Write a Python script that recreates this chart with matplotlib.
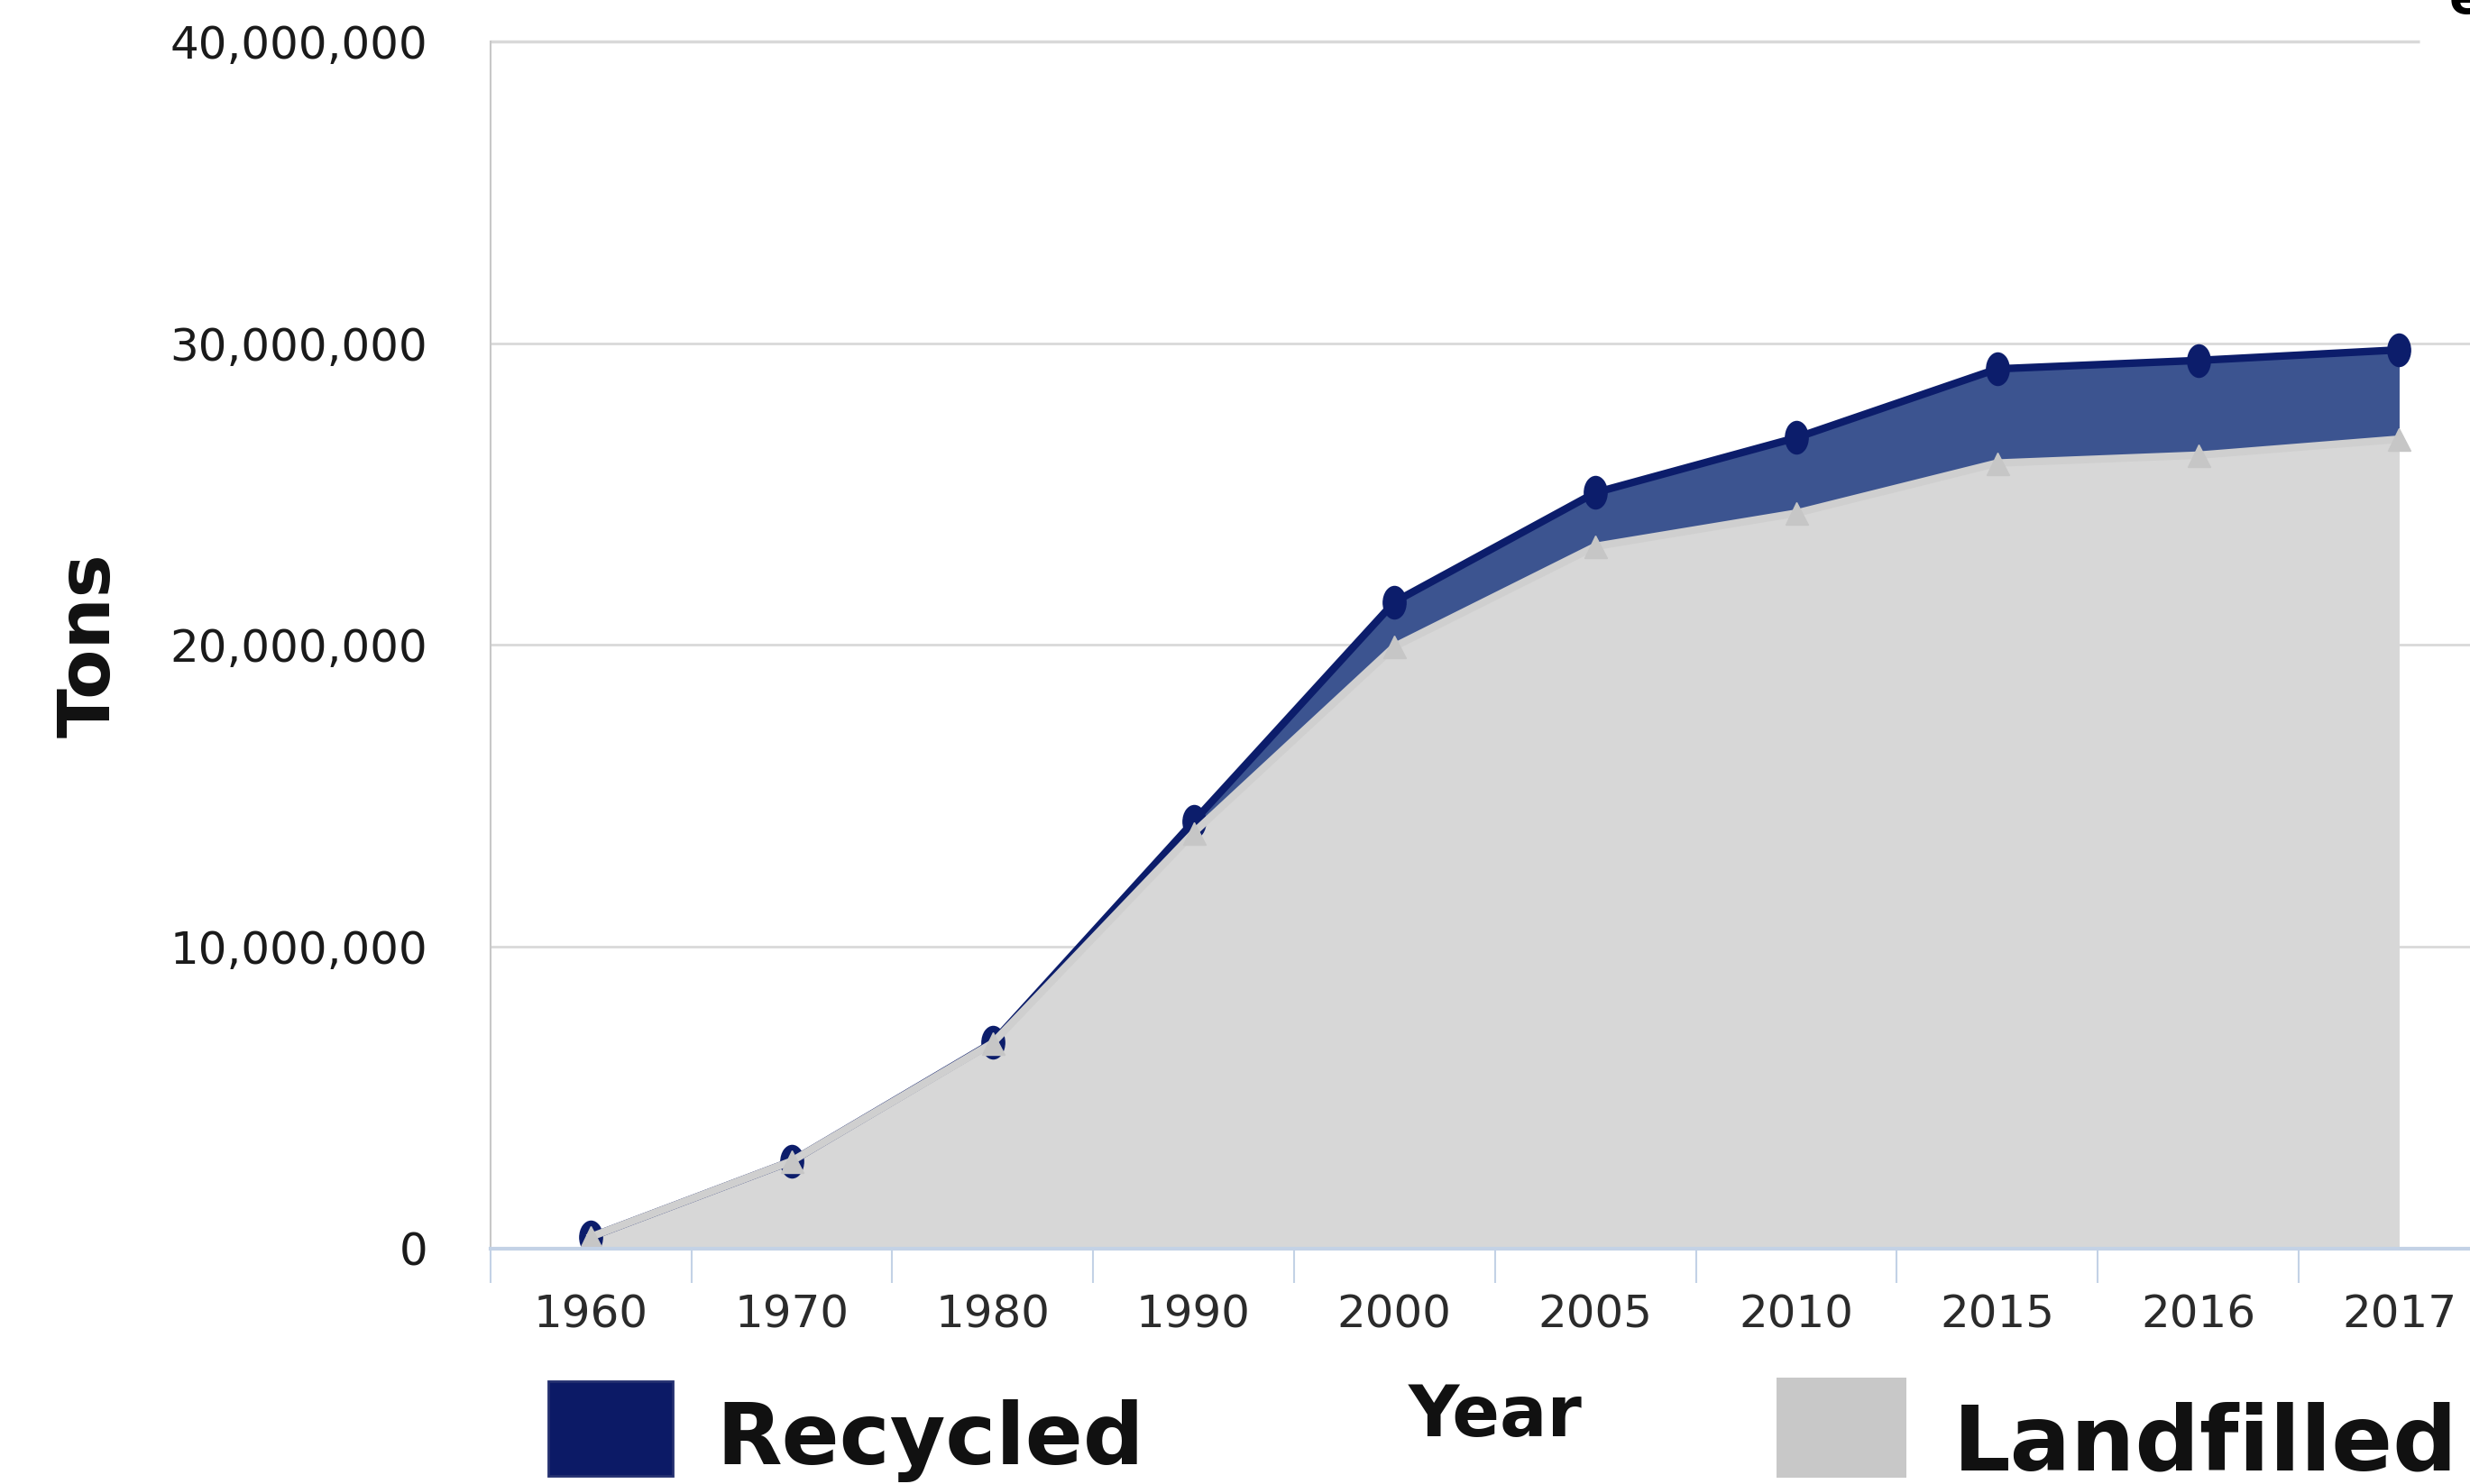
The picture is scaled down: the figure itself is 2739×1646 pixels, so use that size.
import numpy as np
import matplotlib
matplotlib.use("Agg")
import matplotlib.pyplot as plt
from matplotlib.patches import Rectangle
from matplotlib.path import Path
from matplotlib.transforms import Affine2D

years = ["1960", "1970", "1980", "1990", "2000", "2005", "2010", "2015", "2016", "2017"]
landfilled = [0.39e6, 2.90e6, 6.81e6, 13.78e6, 19.95e6, 23.27e6, 24.37e6, 26.03e6, 26.29e6, 26.82e6]
recycled = [0.0, 0.0, 0.02e6, 0.37e6, 1.48e6, 1.78e6, 2.50e6, 3.12e6, 3.14e6, 2.96e6]
y_ticks = [0, 10_000_000, 20_000_000, 30_000_000, 40_000_000]

navy = "#0c1d6b"
blue_fill = "#3c5490"
gray_fill = "#d7d7d7"
gray_line = "#cfcfcf"
axis_blue = "#c3d2e6"

x = np.arange(len(years))
land = np.array(landfilled)
total = land + np.array(recycled)

# the source image is squeezed sideways, so the markers are tall ellipses
ellipse = Path.unit_circle().transformed(Affine2D().scale(0.7, 1.0))

fig = plt.figure(figsize=(27.39, 16.46), dpi=100)
ax = fig.add_axes([0.1985, 0.1586, 0.8135, 0.8135])

ax.fill_between(x, 0, land, color=gray_fill, lw=0, zorder=1)
ax.fill_between(x, land, total, color=blue_fill, lw=0, zorder=1)
ax.plot(x, total, color=navy, lw=6, marker=ellipse, markersize=26,
        markerfacecolor=navy, markeredgecolor=navy, zorder=3)
ax.plot(x, land, color=gray_line, lw=6, marker="^", markersize=18,
        markerfacecolor="#c6c6c6", markeredgecolor="#c6c6c6", zorder=4)

# gridlines
for v in y_ticks[1:-1]:
    ax.axhline(v, color="#d9d9d9", lw=2, zorder=0)
ax.hlines(y_ticks[-1], -0.5, 9.1, color="#d9d9d9", lw=2.5, zorder=0, clip_on=False)

ax.set_xlim(-0.5, len(years) - 0.5)
ax.set_ylim(0, 40_000_000)

ax.set_yticks(y_ticks)
ax.set_yticklabels([f"{v:,}" for v in y_ticks])
ax.tick_params(axis="y", length=0, pad=50, labelsize=36, labelcolor="#1a1a1a")

# category axis: tick marks between categories, labels on categories
ax.set_xticks(np.arange(len(years)) - 0.5)
ax.set_xticklabels([])
ax.set_xticks(x, minor=True)
ax.set_xticklabels(years, minor=True)
ax.tick_params(axis="x", which="major", direction="out", length=27, width=1.5, color=axis_blue)
ax.tick_params(axis="x", which="minor", length=0, pad=36, labelsize=36, labelcolor="#2b2b2b")

for s in ["top", "right"]:
    ax.spines[s].set_visible(False)
ax.spines["left"].set_color("#c8c8c8")
ax.spines["left"].set_linewidth(1.5)
ax.spines["bottom"].set_color(axis_blue)
ax.spines["bottom"].set_linewidth(3)
ax.spines["bottom"].set_zorder(5)

fig.text(0.0365, 0.565, "Tons", rotation=90, ha="center", va="center",
         fontsize=58, fontweight="bold", color="#111111")
fig.text(0.6053, 0.032, "Year", ha="center", va="baseline",
         fontsize=56, fontweight="bold", color="#111111")

# legend drawn by hand along the bottom
fig.patches.append(Rectangle((0.222, 0.0055), 0.0504, 0.0638, transform=fig.transFigure,
                             facecolor="#0c1a66", edgecolor="#243070", lw=2))
fig.text(0.2902, 0.0135, "Recycled", ha="left", va="baseline",
         fontsize=68, fontweight="bold", color="#111111")
fig.patches.append(Rectangle((0.7192, 0.0043), 0.0526, 0.0674, transform=fig.transFigure,
                             facecolor="#c8c8c8", edgecolor="#c8c8c8", lw=0))
fig.text(0.7908, 0.0097, "Landfilled", ha="left", va="baseline",
         fontsize=72, fontweight="bold", color="#111111")

# cropped letter in the top right corner of the source
fig.text(0.9915, 0.9915, "e", ha="left", va="baseline", fontsize=40,
         fontweight="bold", color="black")

fig.savefig("out.png", dpi=100, facecolor="white")
